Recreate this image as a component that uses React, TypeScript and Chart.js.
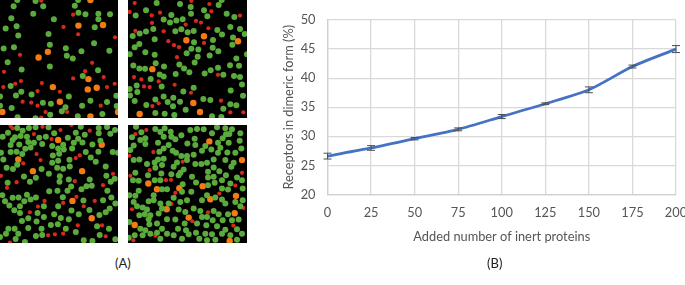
import React, { useEffect, useRef } from "react";
import Chart from "chart.js/auto";

type P = [number, number];

// Line chart data
const addedProteins = [0, 25, 50, 75, 100, 125, 150, 175, 200];
const dimericPercent = [26.6, 28, 29.6, 31.2, 33.4, 35.6, 38, 42, 45];
const dimericError = [0.5, 0.4, 0.2, 0.25, 0.35, 0.15, 0.5, 0.25, 0.6];

// Panel dot positions
const aGreen: P[] = [[52,0],[107,3],[41,19],[130,19],[225,17],[236,38],[257,43],[296,41],[331,43],[100,41],[34,55],[162,58],[296,58],[50,79],[17,86],[285,82],[146,102],[55,107],[150,135],[283,130],[11,146],[42,142],[198,145],[245,154],[329,153],[201,168],[219,176],[23,187],[150,200],[65,209],[295,211],[249,229],[32,259],[64,276],[48,287],[95,284],[207,290],[350,288],[272,303],[129,309],[153,312],[247,318],[322,307],[0,290],[0,318],[35,325],[197,323],[186,335],[351,319],[151,345],[308,343],[53,353],[107,356],[234,350],[235,0]];
const aRed: P[] = [[124,2],[220,44],[191,81],[235,103],[346,112],[60,165],[277,189],[12,216],[256,214],[220,236],[312,232],[63,244],[46,252],[126,250],[345,252],[10,262],[322,262],[113,274],[180,276],[68,306],[94,309],[113,318],[303,318],[137,337],[202,337],[124,354]];
const aOrange: P[] = [[272,0],[236,77],[310,75],[144,156],[116,173],[266,238],[159,262],[264,269],[291,264],[180,306],[7,337],[272,350],[355,337]];

const bGreen: P[] = [[104,9],[174,12],[206,21],[290,15],[299,0],[72,31],[246,31],[207,41],[41,47],[148,45],[314,41],[256,49],[337,51],[125,59],[163,62],[144,68],[182,58],[325,81],[94,87],[72,95],[53,101],[32,108],[178,88],[160,94],[197,97],[215,93],[286,90],[300,104],[354,87],[368,102],[333,113],[98,118],[216,127],[273,120],[52,132],[38,142],[331,135],[272,144],[208,147],[229,149],[289,154],[70,157],[98,165],[194,160],[23,163],[227,171],[263,167],[375,163],[343,176],[218,188],[101,190],[34,197],[172,194],[186,206],[126,200],[324,196],[351,198],[52,206],[69,207],[288,204],[266,211],[202,217],[248,221],[113,224],[161,223],[304,225],[336,229],[354,232],[86,238],[125,230],[44,257],[119,260],[215,264],[360,254],[23,268],[46,277],[184,275],[326,272],[24,287],[125,290],[154,294],[363,288],[38,304],[100,299],[137,307],[174,306],[244,298],[265,301],[73,316],[153,320],[325,314],[343,317],[304,327],[191,330],[100,340],[128,342],[157,346],[270,350],[298,352]];
const bRed: P[] = [[38,9],[262,12],[23,36],[114,38],[268,34],[89,46],[354,47],[90,69],[222,63],[237,68],[191,74],[259,85],[40,93],[125,94],[139,124],[156,136],[171,142],[246,129],[165,172],[36,232],[58,239],[110,245],[158,255],[66,260],[83,262],[288,225],[207,279],[297,303],[110,311],[91,319],[325,338],[364,338],[208,3]];
const bOrange: P[] = [[193,121],[246,109],[348,124],[91,208],[214,310],[53,343],[234,337]];

const cGreen: P[] = [[52,24],[87,24],[107,22],[146,22],[243,20],[297,24],[322,21],[346,30],[24,38],[68,32],[163,40],[228,38],[297,40],[332,41],[8,50],[45,52],[62,48],[81,50],[118,53],[138,50],[204,53],[255,44],[235,56],[222,68],[248,67],[278,73],[38,60],[85,66],[102,68],[127,72],[58,73],[32,75],[190,74],[175,85],[192,88],[76,86],[92,82],[217,85],[302,62],[157,78],[32,96],[50,95],[67,102],[3,98],[159,106],[178,101],[258,96],[296,95],[339,96],[355,98],[273,112],[10,118],[175,122],[209,119],[157,128],[288,125],[52,134],[210,139],[125,147],[172,143],[190,146],[39,147],[20,143],[318,139],[147,161],[72,169],[108,173],[180,168],[320,167],[345,176],[90,185],[207,178],[179,185],[270,178],[333,185],[23,188],[260,198],[245,207],[276,197],[214,199],[203,212],[148,213],[173,212],[323,212],[7,225],[81,224],[189,231],[38,233],[56,232],[92,238],[108,232],[15,243],[73,243],[251,241],[310,240],[335,232],[60,258],[175,258],[132,258],[28,256],[347,250],[43,270],[269,269],[330,265],[113,278],[215,271],[163,282],[237,282],[318,276],[60,278],[132,290],[183,293],[299,284],[85,294],[66,302],[207,297],[110,304],[153,314],[174,312],[292,318],[328,325],[125,325],[198,325],[85,323],[25,325],[44,325],[55,340],[18,340],[47,356],[108,347],[127,344],[228,335],[300,344],[347,357],[252,360],[278,362],[75,365],[0,350]];
const cRed: P[] = [[32,18],[38,25],[128,20],[182,30],[215,15],[270,32],[102,42],[155,57],[110,102],[240,106],[228,114],[122,120],[70,130],[340,161],[225,183],[50,186],[310,195],[21,203],[230,230],[134,242],[285,242],[190,248],[114,259],[252,258],[90,276],[234,315],[307,315],[190,340],[145,345],[165,342],[318,348],[30,367],[3,167]];
const cOrange: P[] = [[175,60],[306,74],[55,118],[99,153],[247,153],[218,242],[276,294]];

const dGreen: P[] = [[42,20],[100,27],[128,25],[225,27],[285,22],[310,25],[58,37],[115,36],[146,35],[205,30],[245,28],[330,28],[355,40],[30,52],[70,55],[125,50],[178,46],[148,50],[160,58],[218,56],[322,42],[302,55],[312,43],[270,40],[55,60],[35,76],[70,72],[108,68],[140,75],[196,70],[220,75],[250,78],[288,68],[320,68],[353,62],[25,90],[125,85],[152,92],[162,98],[240,92],[268,88],[295,83],[340,98],[358,85],[112,95],[178,108],[195,108],[215,104],[288,98],[316,97],[35,120],[52,118],[108,118],[125,116],[75,132],[98,127],[165,127],[195,120],[220,132],[238,132],[255,128],[275,118],[310,120],[335,128],[100,143],[155,140],[185,148],[120,135],[175,158],[258,155],[275,142],[292,153],[328,140],[40,158],[118,160],[148,162],[78,165],[170,165],[258,172],[275,170],[312,165],[345,172],[33,180],[50,182],[98,180],[115,180],[210,170],[278,188],[300,180],[325,190],[360,180],[135,207],[120,207],[50,212],[222,187],[258,195],[182,192],[300,205],[318,208],[362,205],[180,215],[208,215],[22,225],[40,227],[95,225],[80,243],[155,233],[195,240],[240,240],[255,225],[280,232],[300,238],[362,240],[35,245],[95,240],[175,245],[115,250],[140,250],[340,245],[310,250],[355,258],[45,258],[62,262],[75,268],[120,265],[170,268],[215,265],[235,272],[275,272],[52,285],[68,282],[110,280],[190,275],[290,282],[318,282],[302,300],[85,285],[160,298],[135,297],[240,290],[255,290],[272,300],[350,298],[80,297],[22,305],[105,310],[82,312],[188,310],[225,310],[253,315],[330,300],[285,318],[55,325],[70,330],[120,325],[168,325],[192,330],[310,328],[345,327],[85,340],[105,337],[135,340],[155,345],[200,342],[222,337],[250,340],[270,342],[300,340],[325,345],[360,340],[38,345],[62,345],[20,352],[115,355],[180,355],[232,355],[280,358],[255,360],[345,358]];
const dRed: P[] = [[73,30],[40,42],[22,107],[94,96],[182,125],[83,150],[25,167],[360,158],[132,180],[147,179],[340,196],[160,218],[292,220],[148,251],[30,267],[364,263],[258,276],[211,303],[334,316],[100,346],[34,360]];
const dOrange: P[] = [[262,64],[360,120],[79,190],[105,207],[172,204],[242,198],[342,227],[265,237],[134,267],[338,279],[200,292],[38,314],[323,362]];

const FONT = "Lato, 'Open Sans', sans-serif";

function scatterPanel(
  canvas: HTMLCanvasElement,
  green: P[],
  red: P[],
  orange: P[],
  xr: P,
  yr: P
) {
  const ds = (pts: P[], color: string, r: number) => ({
    data: pts.map(([x, y]) => ({ x, y })),
    backgroundColor: color,
    borderWidth: 0,
    pointRadius: r,
    pointBorderWidth: 0,
    showLine: false,
  });
  return new Chart(canvas, {
    type: "scatter",
    data: {
      datasets: [ds(green, "#5aab3c", 3), ds(red, "#d9281e", 2.1), ds(orange, "#f47a12", 3.2)],
    },
    options: {
      animation: false,
      responsive: false,
      plugins: { legend: { display: false }, tooltip: { enabled: false } },
      layout: { padding: 0, autoPadding: false },
      scales: {
        x: { display: false, min: xr[0], max: xr[1] },
        y: { display: false, min: yr[0], max: yr[1], reverse: true },
      },
    },
  });
}

const errorBars = {
  id: "errorBars",
  afterDatasetsDraw(chart: any) {
    const { ctx, scales } = chart;
    ctx.save();
    ctx.strokeStyle = "#4d4d4d";
    ctx.lineWidth = 1;
    addedProteins.forEach((v, i) => {
      const x = scales.x.getPixelForValue(v);
      const hi = scales.y.getPixelForValue(dimericPercent[i] + dimericError[i]);
      const lo = scales.y.getPixelForValue(dimericPercent[i] - dimericError[i]);
      ctx.beginPath();
      ctx.moveTo(x, hi);
      ctx.lineTo(x, lo);
      ctx.moveTo(x - 4, hi);
      ctx.lineTo(x + 4, hi);
      ctx.moveTo(x - 4, lo);
      ctx.lineTo(x + 4, lo);
      ctx.stroke();
    });
    ctx.restore();
  },
};

function lineChart(canvas: HTMLCanvasElement) {
  const tickFont = { family: FONT, size: 12.8 };
  return new Chart(canvas, {
    type: "line",
    data: {
      datasets: [
        {
          data: addedProteins.map((x, i) => ({ x, y: dimericPercent[i] })),
          borderColor: "#4472c4",
          borderWidth: 2.8,
          pointRadius: 0,
          tension: 0.25,
          clip: false,
        },
      ],
    },
    plugins: [errorBars],
    options: {
      animation: false,
      responsive: false,
      plugins: { legend: { display: false }, tooltip: { enabled: false } },
      layout: { autoPadding: false, padding: { left: 11.5, right: 14, top: 20, bottom: 40 } },
      scales: {
        x: {
          type: "linear",
          min: 0,
          max: 200,
          afterFit: (s: any) => {
            s.height = 50.5;
            s.paddingLeft = 0;
            s.paddingRight = 0;
          },
          ticks: { stepSize: 25, color: "#555555", font: tickFont, padding: 10.5, maxRotation: 0 },
          grid: { color: "#d9d9d9", lineWidth: 1.3, drawTicks: false },
          border: { color: "#d0d0d0", width: 1.3 },
          title: {
            display: true,
            text: "Added number of inert proteins",
            color: "#555555",
            font: tickFont,
            padding: 0,
          },
        },
        y: {
          min: 20,
          max: 50,
          afterFit: (s: any) => {
            s.width = 46;
            s.paddingTop = 0;
            s.paddingBottom = 0;
          },
          ticks: { stepSize: 5, color: "#555555", font: tickFont, padding: 12 },
          grid: { color: "#d9d9d9", lineWidth: 1.3, drawTicks: false },
          border: { color: "#d0d0d0", width: 1.3 },
          title: {
            display: true,
            text: "Receptors in dimeric form (%)",
            color: "#555555",
            font: tickFont,
            padding: 0,
          },
        },
      },
    },
  });
}

const labelStyle: React.CSSProperties = {
  position: "absolute",
  top: 255,
  fontFamily: FONT,
  fontSize: 13,
  color: "#222",
  lineHeight: "16px",
};

const canvasStyle = (left: number, top: number): React.CSSProperties => ({
  position: "absolute",
  left,
  top,
  background: "#000",
  display: "block",
});

export default function App() {
  const a = useRef<HTMLCanvasElement>(null);
  const b = useRef<HTMLCanvasElement>(null);
  const c = useRef<HTMLCanvasElement>(null);
  const d = useRef<HTMLCanvasElement>(null);
  const l = useRef<HTMLCanvasElement>(null);

  useEffect(() => {
    document.body.style.margin = "0";
    const charts = [
      scatterPanel(a.current!, aGreen, aRed, aOrange, [0, 355], [0, 355]),
      scatterPanel(b.current!, bGreen, bRed, bOrange, [18, 375], [0, 355]),
      scatterPanel(c.current!, cGreen, cRed, cOrange, [0, 355], [15, 368]),
      scatterPanel(d.current!, dGreen, dRed, dOrange, [18, 375], [15, 368]),
      lineChart(l.current!),
    ];
    return () => charts.forEach((ch) => ch.destroy());
  }, []);

  return (
    <div style={{ position: "relative", width: 685, height: 285, overflow: "hidden", background: "#fff" }}>
      <canvas ref={a} width={118} height={118} style={canvasStyle(0, 0)} />
      <canvas ref={b} width={119} height={118} style={canvasStyle(128, 0)} />
      <canvas ref={c} width={118} height={118} style={canvasStyle(0, 125)} />
      <canvas ref={d} width={119} height={118} style={canvasStyle(128, 125)} />
      <canvas
        ref={l}
        width={420}
        height={285}
        style={{ position: "absolute", left: 270, top: 0, display: "block" }}
      />
      <div style={{ ...labelStyle, left: 115 }}>(A)</div>
      <div style={{ ...labelStyle, left: 487 }}>(B)</div>
    </div>
  );
}
